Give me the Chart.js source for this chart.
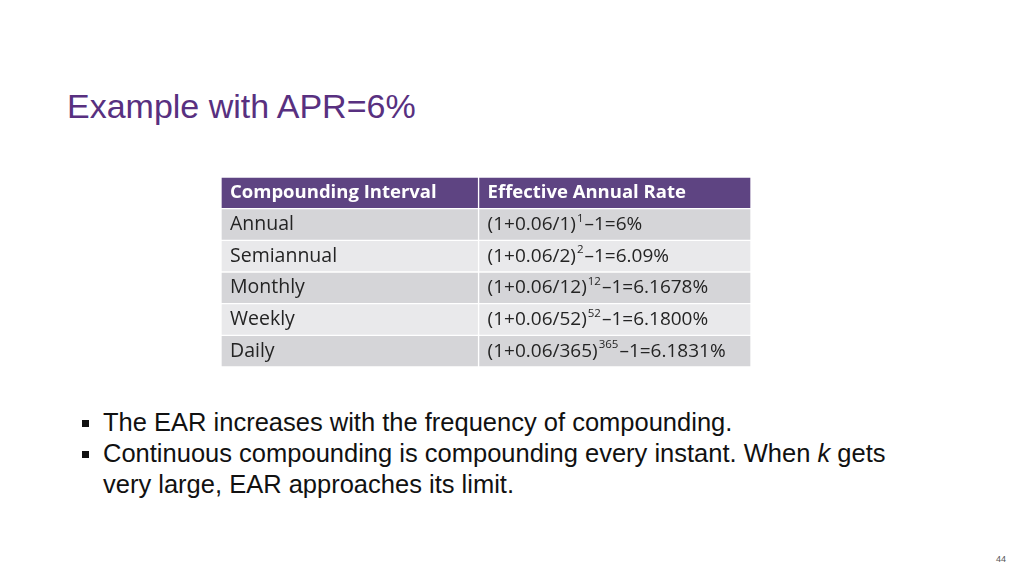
<!DOCTYPE html>
<html>
<head>
<meta charset="utf-8">
<script src="https://cdn.jsdelivr.net/npm/chart.js@4.4.1/dist/chart.umd.min.js"></script>
<style>
  html, body { margin:0; padding:0; background:#ffffff; }
  body { width:1024px; height:576px; position:relative; overflow:hidden; font-family:"Liberation Sans", Arial, sans-serif; }
  #title { position:absolute; left:67px; top:87px; font-size:34px; color:#583080; white-space:nowrap; }
  #tableBox { position:absolute; left:221px; top:177px; width:530px; height:190px; }
  ul { position:absolute; left:78px; top:407px; margin:0; padding:0; list-style:none; font-size:25.5px; line-height:31px; color:#111; width:860px; }
  li { position:relative; padding-left:25px; white-space:nowrap; }
  li::before { content:""; position:absolute; left:4px; top:13px; width:7px; height:7px; background:#111; }
  #page { position:absolute; left:996px; top:554px; font-size:9px; color:#555; }
</style>
</head>
<body>
<div id="title">Example with APR=6%</div>
<div id="tableBox"><canvas id="c"></canvas></div>
<ul>
  <li>The EAR increases with the frequency of compounding.</li>
  <li><span>Continuous compounding is compounding every instant. When </span><i>k</i><span> gets</span><br><span>very large, EAR approaches its limit.</span></li>
</ul>
<div id="page">44</div>
<script>
// ---- data ----
const headers = ["Compounding Interval", "Effective Annual Rate"];
const intervals = ["Annual", "Semiannual", "Monthly", "Weekly", "Daily"];
const periods = [1, 2, 12, 52, 365];
const apr = "0.06";
const earLabels = ["6%", "6.09%", "6.1678%", "6.1800%", "6.1831%"];

// ---- table as a chart ----
const rowLabels = ["header"].concat(intervals);
const SPLIT = 0.486;
const headerColor = "#5e4482";
const darkRow = "#d5d5d8";
const lightRow = "#e9e9eb";
const rowColors = rowLabels.map((r, i) => i === 0 ? headerColor : (i % 2 === 1 ? darkRow : lightRow));

const FONT = '"Open Sans", "DejaVu Sans", sans-serif';

const textPlugin = {
  id: 'cellText',
  afterDatasetsDraw(chart) {
    const ctx = chart.ctx;
    const xs = chart.scales.x, ys = chart.scales.y;
    const x1 = xs.getPixelForValue(0) + 9;
    const x2 = xs.getPixelForValue(SPLIT) + 9;
    ctx.save();
    ctx.textBaseline = 'middle';
    ctx.textAlign = 'left';
    // header
    let y = ys.getPixelForValue(0);
    ctx.fillStyle = '#ffffff';
    ctx.font = 'bold 18.5px ' + FONT;
    ctx.fillText(headers[0], x1, y);
    ctx.fillText(headers[1], x2, y);
    // body
    for (let i = 0; i < intervals.length; i++) {
      y = ys.getPixelForValue(i + 1);
      ctx.fillStyle = '#242424';
      ctx.font = '19.5px ' + FONT;
      ctx.fillText(intervals[i], x1, y);
      ctx.font = '19px ' + FONT;
      const base = "(1+" + apr + "/" + periods[i] + ")";
      let x = x2;
      ctx.fillText(base, x, y);
      x += ctx.measureText(base).width + 1;
      ctx.font = '11.5px ' + FONT;
      const sup = String(periods[i]);
      ctx.fillText(sup, x, y - 6);
      x += ctx.measureText(sup).width + 1;
      ctx.font = '19px ' + FONT;
      ctx.fillText("\u20131=" + earLabels[i], x, y);
    }
    ctx.restore();
  }
};

new Chart(document.getElementById('c'), {
  type: 'bar',
  data: {
    labels: rowLabels,
    datasets: [
      { data: rowLabels.map(() => [0, SPLIT]), backgroundColor: rowColors, borderColor: '#ffffff', borderWidth: 1, borderSkipped: false, barPercentage: 1, categoryPercentage: 1 },
      { data: rowLabels.map(() => [SPLIT, 1]), backgroundColor: rowColors, borderColor: '#ffffff', borderWidth: 1, borderSkipped: false, barPercentage: 1, categoryPercentage: 1 }
    ]
  },
  options: {
    indexAxis: 'y',
    responsive: true,
    maintainAspectRatio: false,
    animation: false,
    layout: { padding: 0 },
    plugins: { legend: { display: false }, tooltip: { enabled: false } },
    scales: {
      x: { display: false, min: 0, max: 1 },
      y: { display: false, stacked: true }
    }
  },
  plugins: [textPlugin]
});
</script>
</body>
</html>
